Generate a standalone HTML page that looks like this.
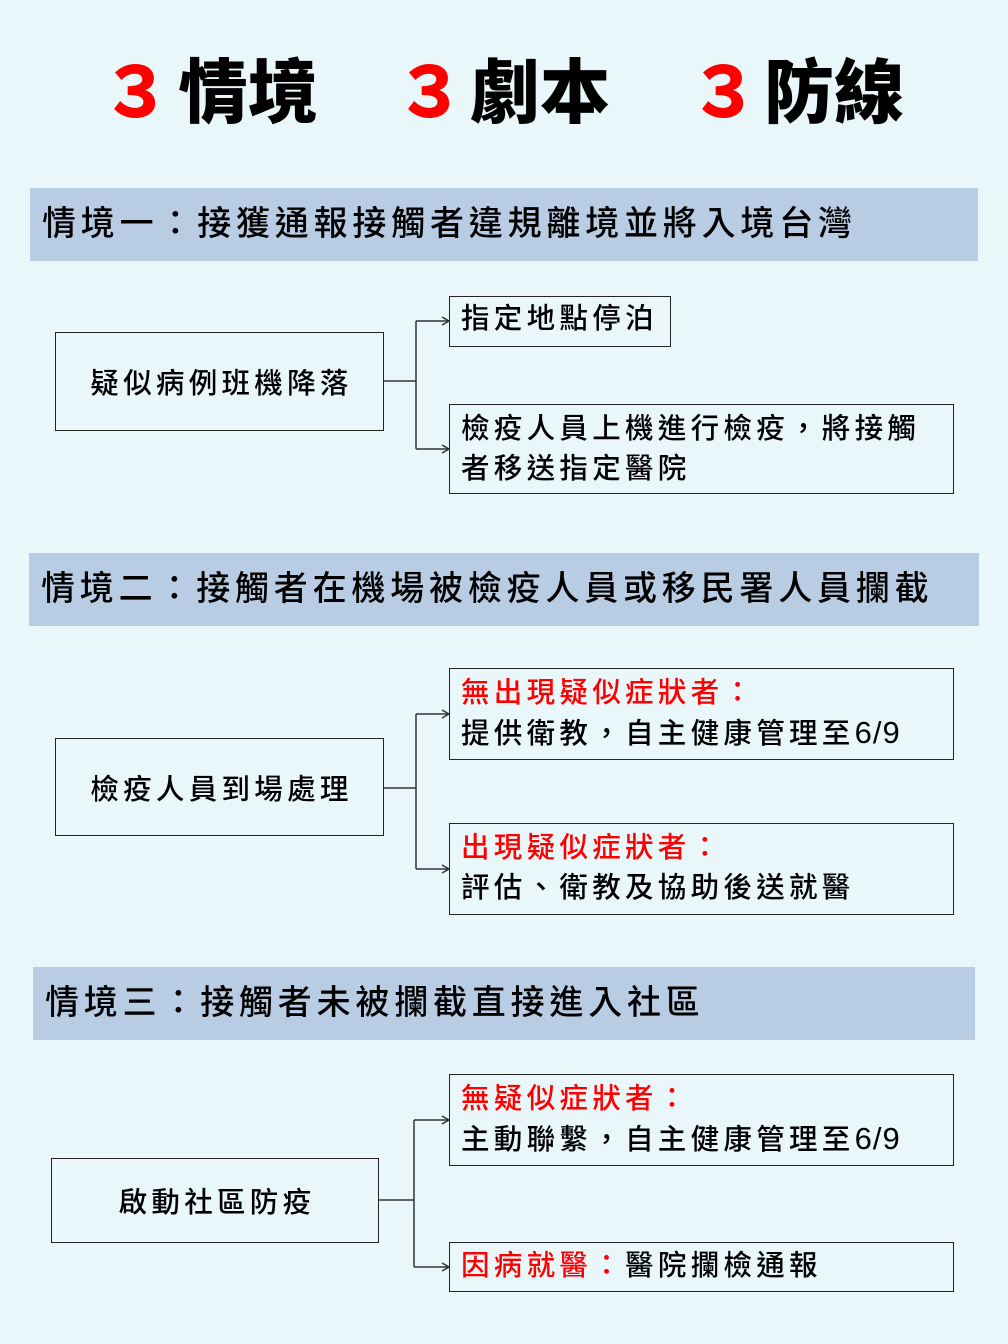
<!DOCTYPE html>
<html><head><meta charset="utf-8"><style>
body{margin:0;width:1008px;height:1344px;background:#e9f7fb;position:relative;overflow:hidden;font-family:"Liberation Sans","Noto Sans CJK TC",sans-serif;color:#000}
.a{position:absolute;white-space:nowrap}
.t{font-size:70px;font-weight:900;top:48px;line-height:90px}
.r{color:#f00}
.ban{position:absolute;background:#b8cce4;font-size:34px;letter-spacing:4.8px;font-weight:500;line-height:73px;padding-left:12px;box-sizing:border-box;height:73px;white-space:nowrap}
.box{position:absolute;border:1.5px solid #222;box-sizing:border-box;font-size:28.5px;letter-spacing:4.3px;font-weight:500;white-space:nowrap}
.c{display:flex;align-items:center;justify-content:center;padding-left:4px}
.p{padding:4px 0 0 11px;line-height:40px}
.d{letter-spacing:1px;font-size:31px}
</style></head><body>
<div class="a t r" style="left:101px">３</div><div class="a t" style="left:178px">情境</div>
<div class="a t r" style="left:395px">３</div><div class="a t" style="left:470px">劇本</div>
<div class="a t r" style="left:689px">３</div><div class="a t" style="left:764px">防線</div>

<div class="ban" style="left:30px;top:188px;width:948px">情境一：接獲通報接觸者違規離境並將入境台灣</div>
<div class="ban" style="left:29px;top:553px;width:950px">情境二：接觸者在機場被檢疫人員或移民署人員攔截</div>
<div class="ban" style="left:33px;top:967px;width:942px">情境三：接觸者未被攔截直接進入社區</div>

<div class="box c" style="left:55px;top:332px;width:329px;height:99px">疑似病例班機降落</div>
<div class="box p" style="left:449px;top:296px;width:222px;height:51px;padding-top:2px">指定地點停泊</div>
<div class="box p" style="left:449px;top:404px;width:505px;height:90px">檢疫人員上機進行檢疫，將接觸<br>者移送指定醫院</div>

<div class="box c" style="left:55px;top:738px;width:329px;height:98px">檢疫人員到場處理</div>
<div class="box p" style="left:449px;top:668px;width:505px;height:92px"><span class="r">無出現疑似症狀者：</span><br>提供衛教，自主健康管理至<span class="d">6/9</span></div>
<div class="box p" style="left:449px;top:823px;width:505px;height:92px"><span class="r">出現疑似症狀者：</span><br>評估、衛教及協助後送就醫</div>

<div class="box c" style="left:51px;top:1158px;width:328px;height:85px">啟動社區防疫</div>
<div class="box p" style="left:449px;top:1074px;width:505px;height:92px"><span class="r">無疑似症狀者：</span><br>主動聯繫，自主健康管理至<span class="d">6/9</span></div>
<div class="box p" style="left:449px;top:1242px;width:505px;height:50px;padding-top:3px"><span class="r">因病就醫：</span>醫院攔檢通報</div>

<svg class="a" style="left:0;top:0" width="1008" height="1344" fill="none" stroke="#333" stroke-width="1.5">
<path d="M384 381H416M416 321V449M416 321H449M416 449H449"/>
<path d="M442 317L449 321L442 325M442 445L449 449L442 453"/>
<path d="M384 788H416M416 714V869M416 714H449M416 869H449"/>
<path d="M442 710L449 714L442 718M442 865L449 869L442 873"/>
<path d="M379 1200H414M414 1120V1267M414 1120H449M414 1267H449"/>
<path d="M442 1116L449 1120L442 1124M442 1263L449 1267L442 1271"/>
</svg>
</body></html>
